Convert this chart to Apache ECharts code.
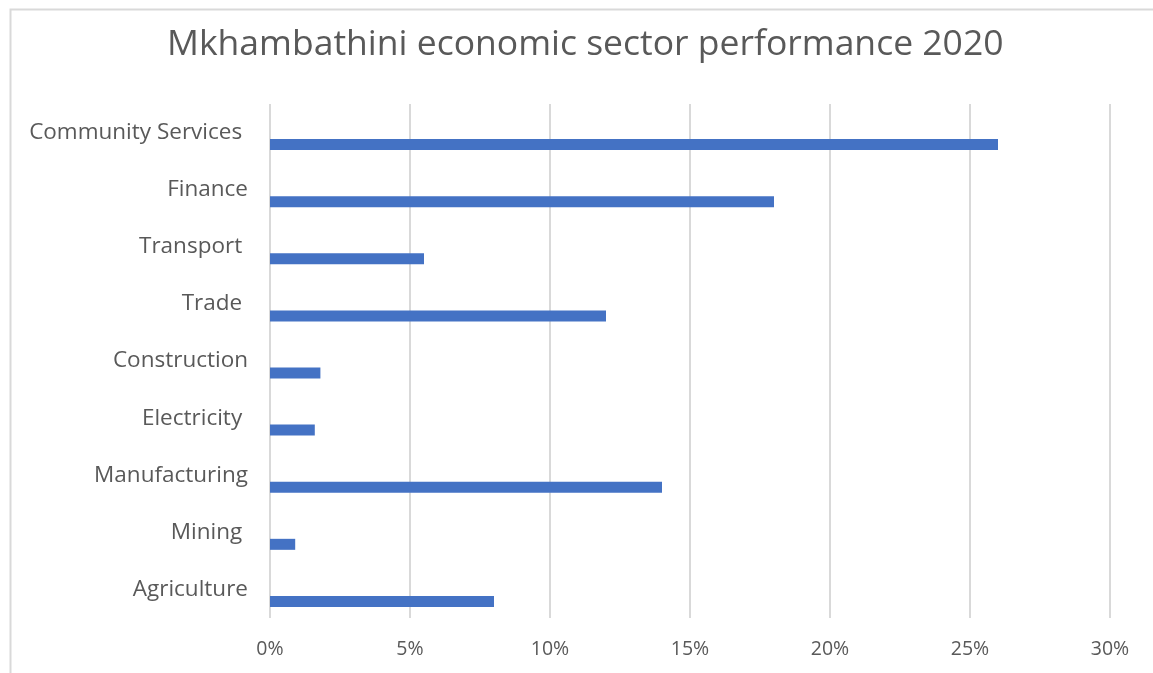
<!DOCTYPE html>
<html>
<head>
<meta charset="utf-8">
<script src="https://cdn.jsdelivr.net/npm/echarts@6/dist/echarts.min.js"></script>
<style>html,body{margin:0;padding:0;background:#fff}#c{width:1153px;height:673px}</style>
</head>
<body>
<div id="c"></div>
<script>
const titleText = 'Mkhambathini economic sector performance 2020';
const categories = ['Agriculture', 'Mining ', 'Manufacturing', 'Electricity ', 'Construction', 'Trade ', 'Transport ', 'Finance', 'Community Services '];
const values = [8, 0.9, 14, 1.6, 1.8, 12, 5.5, 18, 26];
const xTicks = [0, 5, 10, 15, 20, 25, 30];

const chart = echarts.init(document.getElementById('c'));
const FONT = 'Open Sans';
chart.setOption({
  backgroundColor: '#fff',
  animation: false,
  graphic: [{
    type: 'rect', left: 8, top: 7,
    shape: {width: 1200, height: 700},
    style: {fill: 'none', stroke: '#d9d9d9', lineWidth: 2}
  }],
  title: {
    text: titleText, left: 167, top: 27, padding: 0,
    textStyle: {fontFamily: FONT, fontSize: 35.5, fontWeight: 'normal', color: '#595959'}
  },
  grid: {left: 270, right: 43, top: 104, bottom: 55},
  xAxis: {
    type: 'value', min: xTicks[0], max: xTicks[xTicks.length - 1], interval: 5,
    axisLine: {show: false}, axisTick: {show: false},
    splitLine: {lineStyle: {color: '#d9d9d9', width: 2}},
    axisLabel: {formatter: '{value}%', fontFamily: FONT, fontSize: 19.5, color: '#595959', margin: 21}
  },
  yAxis: {
    type: 'category', data: categories,
    axisLine: {show: false}, axisTick: {show: false},
    axisLabel: {fontFamily: FONT, fontSize: 22.5, color: '#595959', margin: 22}
  },
  series: [
    {type: 'bar', data: categories.map(() => null), barWidth: 11, barGap: '118%'},
    {type: 'bar', data: values, barWidth: 11, barGap: '118%', itemStyle: {color: '#4472C4'}}
  ]
});
</script>
</body>
</html>
